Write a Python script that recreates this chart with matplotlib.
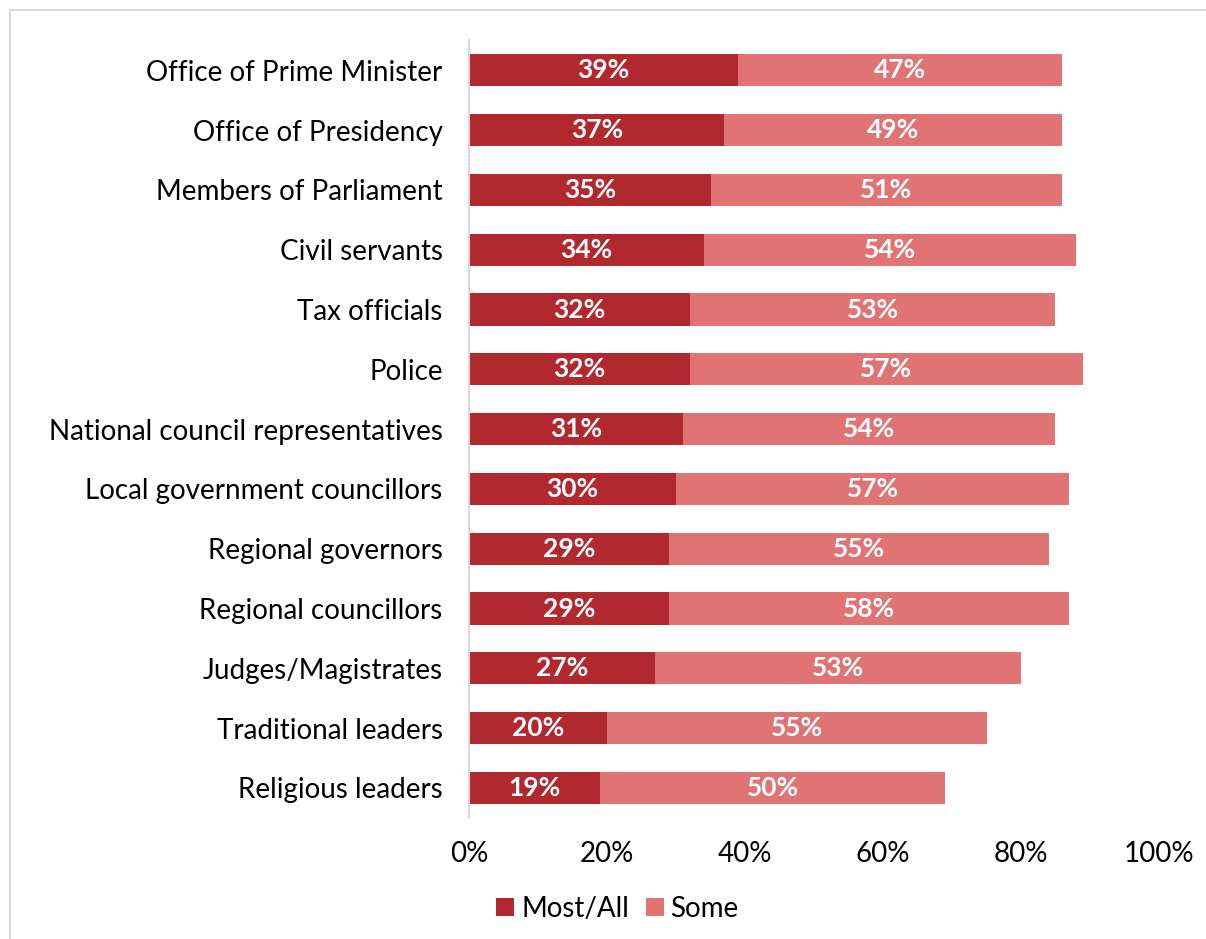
import matplotlib.pyplot as plt
from matplotlib.patches import Rectangle

plt.rcParams['font.family'] = ['Lato', 'DejaVu Sans']

categories = [
    "Office of Prime Minister",
    "Office of Presidency",
    "Members of Parliament",
    "Civil servants",
    "Tax officials",
    "Police",
    "National council representatives",
    "Local government councillors",
    "Regional governors",
    "Regional councillors",
    "Judges/Magistrates",
    "Traditional leaders",
    "Religious leaders",
]
most_all = [39, 37, 35, 34, 32, 32, 31, 30, 29, 29, 27, 20, 19]
some = [47, 49, 51, 54, 53, 57, 54, 57, 55, 58, 53, 55, 50]
xticks = [0, 20, 40, 60, 80, 100]

dark = "#B1282E"
light = "#E07373"

fig = plt.figure(figsize=(12.06, 9.39), dpi=100)
ax = fig.add_axes([0.389, 0.129, 0.572, 0.828])

y = list(range(len(categories)))
ax.barh(y, most_all, height=0.54, color=dark, label="Most/All")
ax.barh(y, some, left=most_all, height=0.54, color=light, label="Some")

for i in y:
    ax.text(most_all[i] / 2, i, f"{most_all[i]}%", ha="center", va="center",
            color="white", fontsize=19, fontweight="bold")
    ax.text(most_all[i] + some[i] / 2, i, f"{some[i]}%", ha="center", va="center",
            color="white", fontsize=19, fontweight="bold")

ax.set_ylim(len(categories) - 0.5, -0.5)
ax.set_xlim(0, 100)
ax.set_yticks(y)
ax.set_yticklabels(categories, fontsize=20)
ax.set_xticks(xticks)
ax.set_xticklabels([f"{t}%" for t in xticks], fontsize=20)
ax.tick_params(length=0)
ax.tick_params(axis="y", pad=19)
ax.tick_params(axis="x", pad=17)
for side in ["top", "right", "bottom"]:
    ax.spines[side].set_visible(False)
ax.spines["left"].set_color("#D9D9D9")
ax.spines["left"].set_linewidth(1.5)

ax.legend(loc="upper center", bbox_to_anchor=(0.215, -0.068), ncol=2, frameon=False,
          fontsize=20, handlelength=0.65, handleheight=0.65, handletextpad=0.25,
          columnspacing=0.6)

# light frame around the chart area
fig.patches.append(Rectangle((10 / 1206, -0.01), 1.1, 1 - 10 / 939 + 0.01,
                             transform=fig.transFigure, fill=False,
                             edgecolor="#D9D9D9", linewidth=1.5))

fig.savefig("out.png", dpi=100)
